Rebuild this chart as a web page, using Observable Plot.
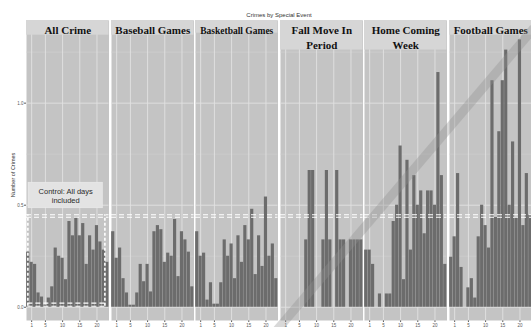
<!DOCTYPE html>
<html>
<head>
<meta charset="utf-8">
<script src="https://cdn.jsdelivr.net/npm/d3@7"></script>
<script src="https://cdn.jsdelivr.net/npm/@observablehq/plot@0.6"></script>
<style>
html, body { margin: 0; padding: 0; background: #fff; }
#chart { position: relative; width: 531px; height: 327px; overflow: hidden; font-family: "Liberation Sans", Arial, sans-serif; }
#title { position: absolute; top: 12px; left: 279px; transform: translateX(-50%); font-size: 6px; color: #333; white-space: nowrap; }
#ylabel { position: absolute; left: 13px; top: 175px; transform: translate(-50%, -50%) rotate(-90deg); font-size: 5.5px; color: #333; white-space: nowrap; }
</style>
</head>
<body>
<div id="chart">
  <div id="title"></div>
  <div id="ylabel"></div>
</div>
<script>
// ---- data ----
const title = "Crimes by Special Event";
const yLabel = "Number of Crimes";
const panels = ["All Crime", "Baseball Games", "Basketball Games", "Fall Move In\nPeriod", "Home Coming\nWeek", "Football Games"];
const hours = d3.range(24);
const allCrime   = [0.27, 0.22, 0.21, 0.07, 0.05, 0.01, 0.045, 0.10, 0.29, 0.25, 0.24, 0.135, 0.42, 0.35, 0.44, 0.35, 0.41, 0.21, 0.35, 0.28, 0.40, 0.32, 0.28, 0.22];
const baseball   = [0.37, 0.24, 0.29, 0.14, 0.07, 0.01, 0.01, 0.07, 0.21, 0.125, 0.21, 0.075, 0.37, 0.40, 0.38, 0.22, 0.265, 0.25, 0.43, 0.15, 0.37, 0.33, 0.27, 0.10];
const basketball = [0.37, 0.25, 0.265, 0.035, 0.12, 0.015, 0.015, 0.12, 0.33, 0.25, 0.31, 0.14, 0.35, 0.22, 0.40, 0.33, 0.48, 0.16, 0.35, 0.20, 0.54, 0.25, 0.31, 0.14];
const fallMoveIn = [0, 0, 0, 0, 0, 0, 0, 0.33, 0.67, 0.67, 0, 0, 0.33, 0.67, 0.33, 0, 0.67, 0.33, 0.33, 0, 0.33, 0.33, 0.33, 0.33];
const homeComing = [0.28, 0.28, 0.21, 0, 0.065, 0, 0.065, 0.065, 0.42, 0.50, 0.79, 0.135, 0.72, 0.28, 0.645, 0.50, 0.57, 0.36, 0.57, 0.57, 0.50, 1.15, 0.645, 0.21];
const football   = [0.245, 0.345, 0.655, 0.195, 0, 0.095, 0.14, 0.045, 0.345, 0.50, 0.40, 0.29, 1.11, 0.44, 0.86, 1.11, 1.26, 0.50, 0.81, 0.44, 1.31, 0.40, 0.655, 0.45];
const series = [allCrime, baseball, basketball, fallMoveIn, homeComing, football];
const xTicks = [1, 5, 10, 15, 20];
const yTicks = [0, 0.5, 1];
const yMinor = [0.25, 0.75, 1.25];
const controlLevels = [0.441, 0.453];
const controlLabel = "Control: All days\nincluded";

// ---- layout & style ----
const xDomain = [-0.5, 23.5];
const yDomain = [-0.065, 1.405];
const layout = { axisW: 26, step: 84.5, panelW: 82.5, H: 327, mTop: 20, mBottom: 7 };
const stripBottom = [1.333, 1.333, 1.343, 1.26, 1.26, 1.333];
const stripFont = [11, 11, 9.5, 11, 11, 11];
const colors = { bg: "#c4c4c4", strip: "#d6d6d6", bar: "#6c6c6c", grid: "#e2e2e2", gridMinor: "#d2d2d2", text: "#111" };
const controlBox = { x1: 0.1, x2: 21.7, y1: 0.485, y2: 0.61, tx: 10.9, ty: 0.548 };
const controlDash = { xs: [-0.1, 22.3], y1: 0.005, y2: 0.453, ys: [0.005, 0.02] };

document.getElementById("title").textContent = title;
document.getElementById("ylabel").textContent = yLabel;

const chart = document.getElementById("chart");

function makePanel(i) {
  const first = i === 0;
  const ml = first ? layout.axisW : 0;
  const w = layout.panelW + ml;
  const rows = hours.map((h, k) => ({ hour: h, value: series[i][k] }));
  const twoLine = panels[i].includes("\n");
  const marks = [
    Plot.frame({ fill: colors.bg, stroke: "none" }),
    Plot.ruleY(yMinor, { stroke: colors.gridMinor, strokeWidth: 0.5 }),
    Plot.ruleY(yTicks, { stroke: colors.grid, strokeWidth: 0.9 }),
    Plot.ruleX(xTicks, { stroke: colors.grid, strokeWidth: 0.9 }),
    Plot.rectY(rows, { x1: d => d.hour - 0.46, x2: d => d.hour + 0.46, y: "value", fill: colors.bar }),
    Plot.ruleY(controlLevels, { stroke: "white", strokeWidth: 1.1, strokeDasharray: "5,3" })
  ];
  if (first) {
    marks.push(
      Plot.ruleY(controlDash.ys, { x1: controlDash.xs[0], x2: controlDash.xs[1], stroke: "white", strokeWidth: 1.1, strokeDasharray: "5,3" }),
      Plot.ruleX(controlDash.xs, { y1: controlDash.y1, y2: controlDash.y2, stroke: "white", strokeWidth: 1.6, strokeDasharray: "3,2" }),
      Plot.rect([controlLabel], { x1: controlBox.x1, x2: controlBox.x2, y1: controlBox.y1, y2: controlBox.y2, fill: "#e3e3e3", stroke: "#ededed", strokeWidth: 0.6 }),
      Plot.text([controlLabel], { x: controlBox.tx, y: controlBox.ty, text: d => d, fontSize: 7.5, lineHeight: 1.3, fill: "#2a2a2a", fontFamily: "Liberation Sans" })
    );
  }
  marks.push(
    Plot.rect([panels[i]], { x1: xDomain[0], x2: xDomain[1], y1: stripBottom[i], y2: yDomain[1], fill: colors.strip }),
    Plot.text([panels[i]], {
      frameAnchor: "top", text: d => d, dy: twoLine ? 16.5 : 9,
      fontFamily: "Liberation Serif", fontWeight: "bold", fontSize: stripFont[i],
      lineHeight: 15 / stripFont[i], lineAnchor: "middle", fill: colors.text
    })
  );
  const svg = Plot.plot({
    width: w, height: layout.H,
    marginLeft: ml, marginRight: 0, marginTop: layout.mTop, marginBottom: layout.mBottom,
    style: { fontSize: "4.5px", color: "#5a5a5a", background: "none", overflow: "visible", fontFamily: "Liberation Sans" },
    x: { domain: xDomain, ticks: xTicks, tickFormat: d => String(d), tickSize: 2, tickPadding: 1, label: null },
    y: first
      ? { domain: yDomain, ticks: yTicks, tickFormat: d3.format(".1f"), tickSize: 2, tickPadding: 1, label: null }
      : { domain: yDomain, axis: null },
    marks
  });
  svg.style.position = "absolute";
  svg.style.left = (first ? 0 : layout.axisW + layout.step * i) + "px";
  svg.style.top = "0px";
  chart.appendChild(svg);
}

panels.forEach((_, i) => makePanel(i));

// faint diagonal watermark stripe seen over the right half of the reference
const wm = d3.create("svg").attr("width", 531).attr("height", 327)
  .style("position", "absolute").style("left", "0px").style("top", "0px").style("pointer-events", "none");
wm.append("line").attr("x1", 277).attr("y1", 330).attr("x2", 534).attr("y2", 28)
  .attr("stroke", "#8f8f8f").attr("stroke-width", 9).attr("stroke-opacity", 0.35);
chart.appendChild(wm.node());
</script>
</body>
</html>
